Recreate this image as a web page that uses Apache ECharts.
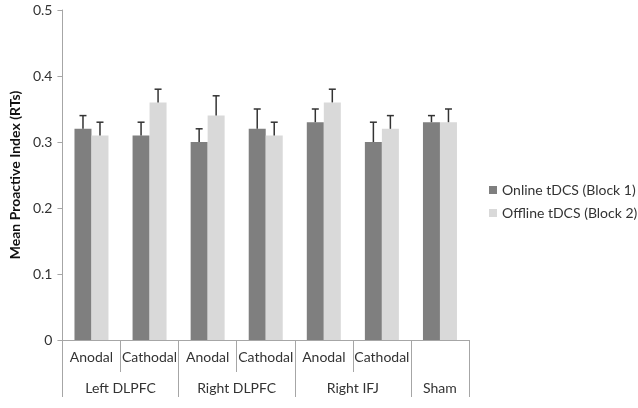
<!DOCTYPE html>
<html>
<head>
<meta charset="utf-8">
<script src="https://cdn.jsdelivr.net/npm/echarts@6/dist/echarts.min.js"></script>
<style>
html,body{margin:0;padding:0;background:#fff;}
#chart{width:638px;height:408px;}
</style>
</head>
<body>
<div id="chart"></div>
<script>
// ---- data ----
var conditions = ["Anodal", "Cathodal", "Anodal", "Cathodal", "Anodal", "Cathodal", ""];
var groupNames = ["Left DLPFC", "Right DLPFC", "Right IFJ", "Sham"];
var groupSizes = [2, 2, 2, 1];
var seriesNames = ["Online tDCS (Block 1)", "Offline tDCS (Block 2)"];
var online = [0.32, 0.31, 0.30, 0.32, 0.33, 0.30, 0.33];
var onlineErr = [0.02, 0.02, 0.02, 0.03, 0.02, 0.03, 0.01];
var offline = [0.31, 0.36, 0.34, 0.31, 0.36, 0.32, 0.33];
var offlineErr = [0.02, 0.02, 0.03, 0.02, 0.02, 0.02, 0.02];
var yTicks = [0, 0.1, 0.2, 0.3, 0.4, 0.5];

// ---- build ----
var FONT = 'Lato';
var FS = 14;
var TXT = '#333';
var barW = 17;
var boundaries = [0], centers = [];
(function(){
  var acc = 0;
  groupSizes.forEach(function(s){ centers.push(acc + s/2); acc += s; boundaries.push(acc); });
})();

function errSeries(vals, errs, offset) {
  return {
    type: 'custom',
    xAxisIndex: 0,
    yAxisIndex: 0,
    silent: true,
    z: 5,
    data: vals.map(function(v, i){ return [i, v, v + errs[i]]; }),
    renderItem: function(params, api) {
      var lo = api.coord([api.value(0), api.value(1)]);
      var hi = api.coord([api.value(0), api.value(2)]);
      var x = lo[0] + offset;
      var st = {stroke: '#333', lineWidth: 1.5};
      return {
        type: 'group',
        children: [
          {type: 'line', shape: {x1: x, y1: lo[1], x2: x, y2: hi[1]}, style: st},
          {type: 'line', shape: {x1: x - 3.5, y1: hi[1], x2: x + 3.5, y2: hi[1]}, style: st}
        ]
      };
    }
  };
}

var chart = echarts.init(document.getElementById('chart'), null, {renderer: 'canvas'});
chart.setOption({
  animation: false,
  textStyle: {fontFamily: FONT},
  grid: {left: 58, right: 169, top: 10, bottom: 68},
  legend: {
    orient: 'vertical',
    left: 484, top: 178,
    itemWidth: 8, itemHeight: 8, itemGap: 9,
    icon: 'rect',
    textStyle: {fontFamily: FONT, fontSize: FS, color: TXT},
    data: seriesNames
  },
  xAxis: [{
    type: 'category',
    data: conditions,
    position: 'bottom',
    axisLine: {lineStyle: {color: '#a6a6a6', width: 1}},
    axisTick: {show: true, length: 32, interval: 0, lineStyle: {color: '#a6a6a6'}},
    axisLabel: {interval: 0, margin: 10, fontSize: FS, color: TXT, fontFamily: FONT},
    splitLine: {show: false}
  }, {
    type: 'value',
    min: 0, max: conditions.length,
    position: 'bottom',
    offset: 32,
    axisLine: {show: false},
    axisTick: {show: true, length: 25, customValues: boundaries, lineStyle: {color: '#a6a6a6'}},
    axisLabel: {
      customValues: centers, margin: 9, fontSize: FS, color: TXT, fontFamily: FONT,
      formatter: function(v){ var k = centers.indexOf(v); return k >= 0 ? groupNames[k] : ''; }
    },
    splitLine: {show: false}
  }],
  yAxis: {
    type: 'value',
    min: 0, max: 0.5, interval: 0.1,
    name: 'Mean Proactive Index (RTs)',
    nameLocation: 'middle',
    nameGap: 37,
    nameTextStyle: {fontFamily: FONT, fontSize: FS, fontWeight: 'bold', color: '#111'},
    axisLine: {show: true, lineStyle: {color: '#a6a6a6'}},
    axisTick: {show: true, length: 5, lineStyle: {color: '#a6a6a6'}},
    axisLabel: {margin: 10, fontSize: FS, color: TXT, fontFamily: FONT,
      formatter: function(v){ var s = String(Math.round(v*10)/10); return yTicks.indexOf(+s) >= 0 ? s : ''; }},
    splitLine: {show: false}
  },
  series: [{
    name: seriesNames[0], type: 'bar', data: online, barWidth: barW, barGap: '0%',
    itemStyle: {color: '#7f7f7f'}
  }, {
    name: seriesNames[1], type: 'bar', data: offline, barWidth: barW, barGap: '0%',
    itemStyle: {color: '#d9d9d9'}
  },
  errSeries(online, onlineErr, -barW/2),
  errSeries(offline, offlineErr, barW/2)
  ]
});
</script>
</body>
</html>
